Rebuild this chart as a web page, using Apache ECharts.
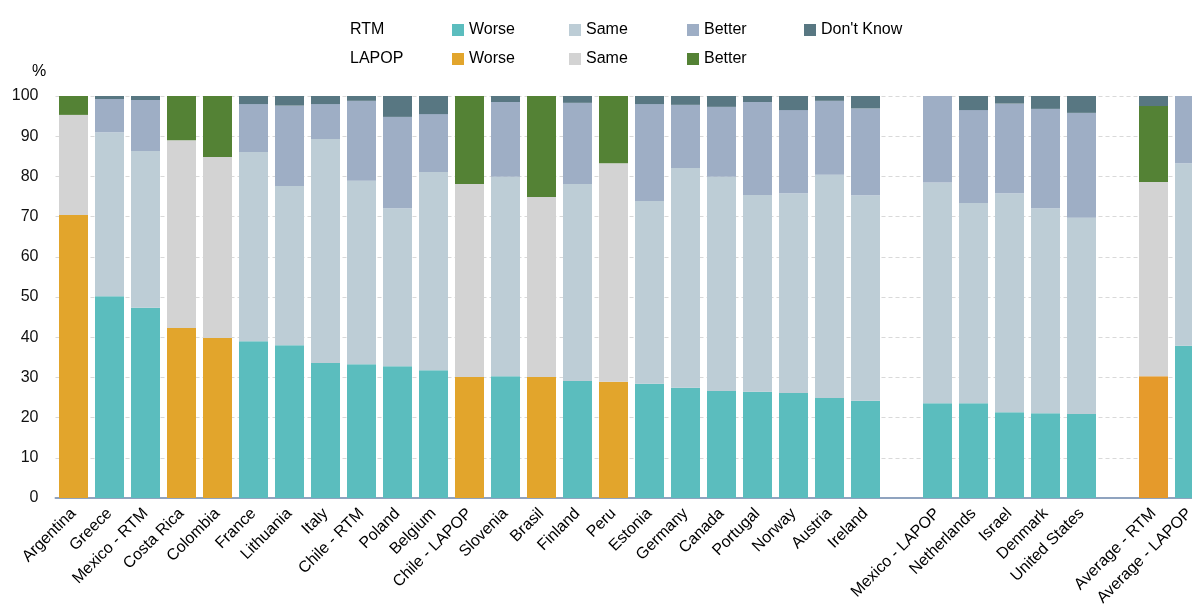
<!DOCTYPE html>
<html>
<head>
<meta charset="utf-8">
<script src="https://cdn.jsdelivr.net/npm/echarts@6/dist/echarts.min.js"></script>
<style>html,body{margin:0;padding:0;background:#fff}#c{width:1192px;height:605px}</style>
</head>
<body>
<div id="c"></div>
<script>
// ---- data ----
const categories = ["Argentina","Greece","Mexico - RTM","Costa Rica","Colombia","France","Lithuania","Italy","Chile - RTM","Poland","Belgium","Chile - LAPOP","Slovenia","Brasil","Finland","Peru","Estonia","Germany","Canada","Portugal","Norway","Austria","Ireland"," ","Mexico - LAPOP","Netherlands","Israel","Denmark","United States","  ","Average - RTM","Average - LAPOP"];
const rtmWorse  = [null,50.2,47.3,null,null,39.0,38.0,33.6,33.3,32.8,31.8,null,30.3,null,29.1,null,28.4,27.4,26.6,26.4,26.1,24.9,24.2,null,23.6,23.6,21.3,21.1,20.9,null,null,37.9];
const rtmSame   = [null,40.8,39.0,null,null,47.1,39.6,55.7,45.6,39.3,49.3,null,49.6,null,49.0,null,45.5,54.7,53.3,49.0,49.7,55.5,51.1,null,54.9,49.8,54.5,51.0,48.8,null,null,45.4];
const rtmBetter = [null,8.25,12.7,null,null,11.9,20.0,8.7,19.9,22.7,14.4,null,18.6,null,20.2,null,24.1,15.7,17.4,23.1,20.7,18.4,21.6,null,21.5,23.1,22.3,24.7,26.1,null,null,16.7];
const rtmDK     = [null,0.75,1.0,null,null,2.0,2.4,2.0,1.2,5.2,4.5,null,1.5,null,1.7,null,2.0,2.2,2.7,1.5,3.5,1.2,3.1,null,null,3.5,1.9,3.2,4.2,null,2.5,null];
const lapopWorse  = [70.4,null,null,42.3,39.8,null,null,null,null,null,null,30.1,null,30.1,null,28.9,null,null,null,null,null,null,null,null,null,null,null,null,null,null,30.3,null];
const lapopSame   = [24.9,null,null,46.7,45.0,null,null,null,null,null,null,48.0,null,44.8,null,54.4,null,null,null,null,null,null,null,null,null,null,null,null,null,null,48.3,null];
const lapopBetter = [4.7,null,null,11.0,15.2,null,null,null,null,null,null,21.9,null,25.1,null,16.7,null,null,null,null,null,null,null,null,null,null,null,null,null,null,18.9,null];
const yTicks = [0,10,20,30,40,50,60,70,80,90,100];

// ---- font pick ----
function hasFont(name){
  const c=document.createElement('canvas').getContext('2d');
  const s="Wwmli Don't Know 0123";
  c.font='40px monospace'; const w1=c.measureText(s).width;
  c.font='40px "'+name+'", monospace'; const w2=c.measureText(s).width;
  return Math.abs(w1-w2)>0.5;
}
const narrow = hasFont('Liberation Sans Narrow');
const FF = narrow ? '"Liberation Sans Narrow", "Liberation Sans", sans-serif' : '"Liberation Sans", Arial, sans-serif';
const FS = narrow ? 19 : 16;

const C = {
  rW:'#5BBDBE', rS:'#BDCDD6', rB:'#9EAEC5', rD:'#587782',
  lW:'#E2A52C', lS:'#D3D3D3', lB:'#548235'
};

const chart = echarts.init(document.getElementById('c'), null, {renderer:'canvas'});

function bar(name, data, color){
  return {name, type:'bar', stack:'all', data, barWidth:29, itemStyle:{color}, emphasis:{disabled:true}, animation:false};
}
const lapopWorseData = lapopWorse.map((v,i)=> (v!=null && categories[i].indexOf('Average')===0) ? {value:v, itemStyle:{color:'#E59A2B'}} : v);

function lg(name, left, top){
  return {data:[name], left, top, padding:0, itemWidth:12, itemHeight:12, icon:'rect', selectedMode:false,
    formatter: n => n.split(' ').slice(1).join(' '),
    textStyle:{fontFamily:FF, fontSize:FS, color:'#000'}};
}

chart.setOption({
  animation:false,
  grid:{left:55.5, right:-15.5, top:96, bottom:107, containLabel:false, outerBoundsMode:'none'},
  legend:[
    lg('RTM Worse',452,22), lg('RTM Same',569,22), lg('RTM Better',687,22), lg("RTM Don't Know",804,22),
    lg('LAPOP Worse',452,51), lg('LAPOP Same',569,51), lg('LAPOP Better',687,51)
  ],
  graphic:[
    {type:'text', x:350, y:30, style:{text:'RTM', fontFamily:FF, fontSize:FS, fill:'#000', verticalAlign:'middle'}},
    {type:'text', x:350, y:58.5, style:{text:'LAPOP', fontFamily:FF, fontSize:FS, fill:'#000', verticalAlign:'middle'}},
    {type:'text', x:32, y:72, style:{text:'%', fontFamily:FF, fontSize:FS, fill:'#000', verticalAlign:'middle'}}
  ],
  xAxis:{type:'category', data:categories,
    axisLine:{lineStyle:{color:'#8FA3BF', width:2}},
    axisTick:{show:false},
    axisLabel:{interval:0, rotate:45, fontFamily:FF, fontSize:FS, color:'#000', margin:13}},
  yAxis:{type:'value', min:yTicks[0], max:yTicks[yTicks.length-1], interval:10,
    axisLine:{show:false}, axisTick:{show:false},
    axisLabel:{fontFamily:FF, fontSize:FS, color:'#111', margin:17, padding:[3,0,0,0]},
    splitLine:{lineStyle:{color:'#d9d9d9', type:[4,3], width:1}}},
  series:[
    bar('RTM Worse', rtmWorse, C.rW),
    bar('LAPOP Worse', lapopWorseData, C.lW),
    bar('RTM Same', rtmSame, C.rS),
    bar('LAPOP Same', lapopSame, C.lS),
    bar('RTM Better', rtmBetter, C.rB),
    bar('LAPOP Better', lapopBetter, C.lB),
    bar("RTM Don't Know", rtmDK, C.rD)
  ]
});
</script>
</body>
</html>
